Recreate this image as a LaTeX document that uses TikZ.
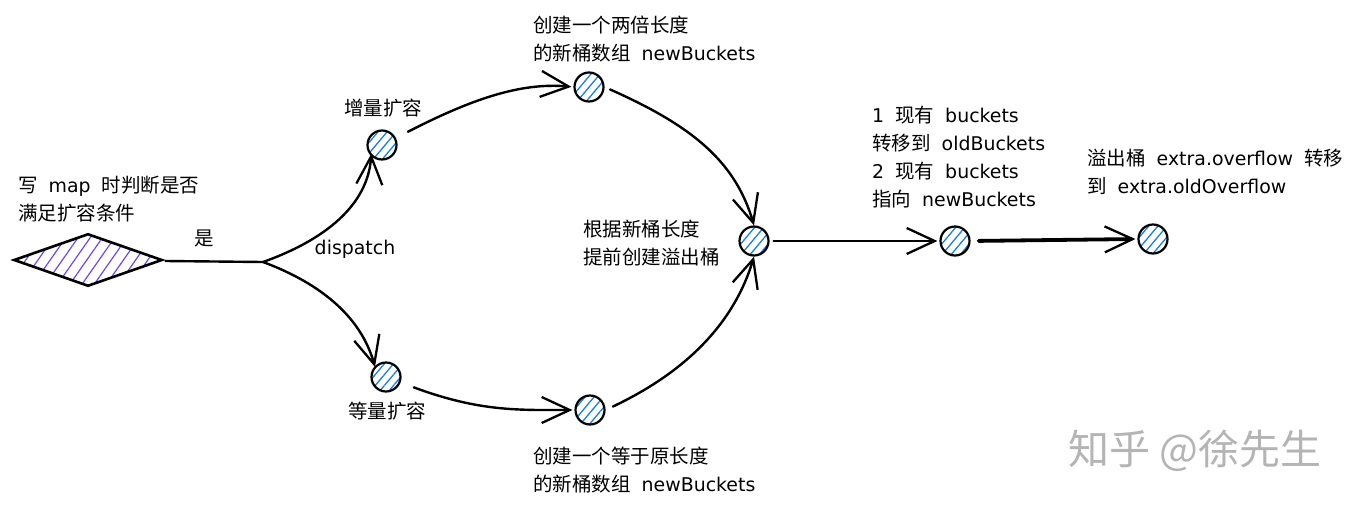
\documentclass[tikz,border=0pt]{standalone}
\usepackage{fontspec}
\setmainfont{Noto Sans CJK SC}
\newfontfamily\handfont{DejaVu Sans}[Scale=0.97]
\newcommand\hw[1]{{\handfont #1}}
\newcommand\gap{\hspace{11pt}}
\usetikzlibrary{arrows.meta,patterns.meta,shapes.geometric}
\definecolor{hatchblue}{HTML}{1C7ED6}
\definecolor{hatchviolet}{HTML}{7048E8}
\definecolor{wmgray}{HTML}{B4B4B4}
\begin{document}
\begin{tikzpicture}[x=1pt,y=-1pt,
  dot/.style={circle,draw=black,line width=2.2pt,minimum size=29pt,inner sep=0pt,
    pattern={Lines[angle=50,distance=7pt,line width=1.3pt]},pattern color=hatchblue},
  lbl/.style={inner sep=0pt,align=left,font=\fontsize{19.5}{28}\selectfont},
  conn/.style={line width=2.4pt,line cap=round,-{Straight Barb[length=28pt,width=26pt,line width=2.3pt]}},
  plain/.style={line width=2.4pt,line cap=round}]
\useasboundingbox (0,0) rectangle (1356,506);
% decision diamond
\node[diamond,draw=black,line width=2.6pt,minimum width=148pt,minimum height=52pt,inner sep=0pt,aspect=3,
  pattern={Lines[angle=55,distance=10pt,line width=1.2pt]},pattern color=hatchviolet] (D0) at (88,260) {};
\coordinate (br) at (263,262);
% circles
\node[dot] (A) at (382,145) {};
\node[dot] (B) at (386,377) {};
\node[dot] (C) at (589,87) {};
\node[dot] (D) at (590,410) {};
\node[dot] (E) at (754,241) {};
\node[dot] (F) at (955,241) {};
\node[dot] (G) at (1153,239) {};
% labels
\node[lbl,anchor=west] (t0) at (18,199) {写\gap\hw{map}\gap 时判断是否\\满足扩容条件};
\node[lbl] (tyes) at (204,238) {是};
\node[lbl] (tdis) at (355,249) {\hw{dispatch}};
\node[lbl] (tA) at (383,108) {增量扩容};
\node[lbl] (tB) at (387,411) {等量扩容};
\node[lbl,anchor=west] (tC) at (533,39) {创建一个两倍长度\\的新桶数组\gap\hw{newBuckets}};
\node[lbl,anchor=west] (tE) at (583,243) {根据新桶长度\\提前创建溢出桶};
\node[lbl,anchor=west] (tF) at (872,157) {\hw{1}\gap 现有\gap\hw{buckets}\\转移到\gap\hw{oldBuckets}\\\hw{2}\gap 现有\gap\hw{buckets}\\指向\gap\hw{newBuckets}};
\node[lbl,anchor=west] (tG) at (1087,172) {溢出桶\gap\hw{extra.overflow}\gap 转移\\到\gap\hw{extra.oldOverflow}};
\node[lbl,anchor=west] (tD) at (533,470) {创建一个等于原长度\\的新桶数组\gap\hw{newBuckets}};
\node[inner sep=0pt,anchor=west,text=wmgray,font=\fontsize{41}{44}\selectfont] (wm) at (1068,451) {知乎 @徐先生};
% connectors
\draw[plain] (D0.east) ++(3,1) -- (br);
\draw[conn] (br) .. controls (325,240) and (368,205) .. ([yshift=2pt]A.south west);
\draw[conn] (br) .. controls (325,285) and (362,320) .. ([yshift=-1pt]B.north west);
\draw[conn,shorten <=14pt,shorten >=2pt] (A) .. controls (470,100) and (520,82) .. (C.west);
\draw[conn,shorten <=14pt,shorten >=2pt] (B) .. controls (480,412) and (520,410) .. (D.west);
\draw[conn,shorten <=6pt] (C.east) .. controls (690,125) and (735,160) .. (E.north);
\draw[conn,shorten <=8pt] (D.east) .. controls (690,370) and (735,320) .. (E.south);
\draw[conn,shorten <=4pt,shorten >=2pt] (E.east) -- (F.west);
\draw[conn,line width=3.8pt,shorten <=8pt,shorten >=2pt] (F.east) -- (G.west);
\end{tikzpicture}
\end{document}
